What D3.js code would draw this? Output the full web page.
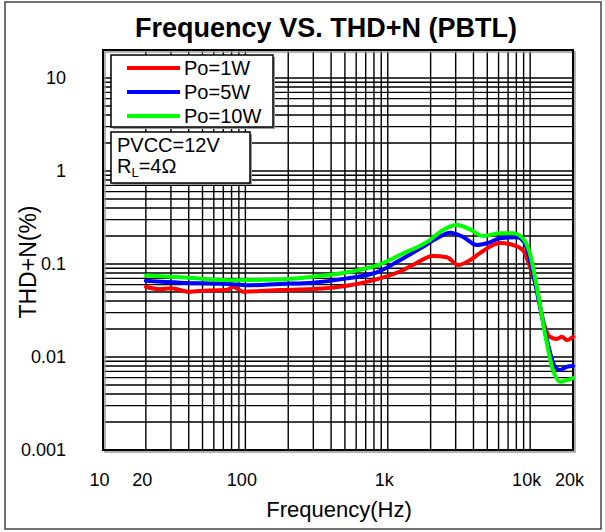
<!DOCTYPE html>
<html>
<head>
<meta charset="utf-8">
<script src="https://cdn.jsdelivr.net/npm/d3@7"></script>
<style>
  html, body { margin: 0; padding: 0; background: #fff; }
  svg { display: block; font-family: "Liberation Sans", Arial, sans-serif; }
</style>
</head>
<body>
<svg id="chart" width="605" height="532"></svg>
<script>
// ---- data ----
const titleText = "Frequency VS. THD+N (PBTL)";
const xTitle = "Frequency(Hz)";
const yTitle = "THD+N(%)";
const seriesNames = ["Po=1W", "Po=5W", "Po=10W"];
const seriesColors = ["#ff0000", "#0000ff", "#00ff00"];

const freqRed = [20, 25, 30, 40, 55, 74, 82, 96, 175, 300, 517, 881, 1218, 1504, 2076, 2606, 3113, 3779, 4438, 6142, 7575, 8898, 9955, 11170, 12300, 13770, 15420, 16720, 18120, 20000];
const thdRed  = [0.057, 0.0535, 0.0548, 0.0504, 0.052, 0.0525, 0.057, 0.0504, 0.0525, 0.0538, 0.0585, 0.070, 0.083, 0.0975, 0.122, 0.118, 0.0975, 0.110, 0.131, 0.168, 0.160, 0.141, 0.0935, 0.0525, 0.025, 0.0165, 0.0156, 0.0165, 0.0152, 0.0165];

const freqBlue = [20, 35, 78, 103, 175, 298, 517, 881, 1218, 1767, 2217, 2735, 3374, 4230, 4976, 6142, 8077, 9190, 10462, 11720, 13130, 14930, 16190, 18120, 20000];
const thdBlue  = [0.066, 0.063, 0.061, 0.059, 0.061, 0.063, 0.070, 0.084, 0.110, 0.153, 0.189, 0.217, 0.196, 0.160, 0.167, 0.189, 0.194, 0.167, 0.080, 0.0348, 0.0152, 0.00787, 0.00725, 0.00787, 0.0080];

const freqGreen = [20, 35, 78, 175, 298, 517, 881, 1218, 1978, 2442, 3062, 3779, 4662, 6142, 7575, 8898, 9955, 11350, 12700, 14450, 16190, 18120, 20000];
const thdGreen  = [0.075, 0.072, 0.067, 0.068, 0.073, 0.0815, 0.099, 0.125, 0.181, 0.232, 0.263, 0.236, 0.200, 0.214, 0.214, 0.189, 0.130, 0.0484, 0.018, 0.00725, 0.00542, 0.00566, 0.00594];

const xTickValues = [10, 20, 100, 1000, 10000, 20000];
const xTickLabels = ["10", "20", "100", "1k", "10k", "20k"];
const yTickValues = [0.001, 0.01, 0.1, 1, 10];
const yTickLabels = ["0.001", "0.01", "0.1", "1", "10"];
const xDomain = [10, 20000];
const yDomain = [0.001, 20];
const noteLine1 = "PVCC=12V";

// ---- layout ----
const svg = d3.select("#chart");
const plot = { left: 103, top: 50, right: 573, bottom: 450 };
const x = d3.scaleLog().domain(xDomain).range([plot.left, plot.right]);
const y = d3.scaleLog().domain(yDomain).range([plot.bottom, plot.top]);

// outer chart frame
svg.append("rect").attr("x", 5).attr("y", 2).attr("width", 596).attr("height", 527)
  .attr("fill", "#fff").attr("stroke", "#444").attr("stroke-width", 1.5);

// grid values (1..9 per decade)
const gridX = [];
for (let d = 10; d <= 10000; d *= 10) for (let m = 1; m <= 9; m++) { const v = d * m; if (v <= 20000) gridX.push(v); }
gridX.push(20000);
const gridY = [];
for (let d = 0.001; d <= 10.0001; d *= 10) for (let m = 1; m <= 9; m++) { const v = +(d * m).toPrecision(3); if (v <= 20) gridY.push(v); }

const grid = svg.append("g").attr("stroke", "#000").attr("stroke-width", 1.4);
grid.selectAll("line.gx").data(gridX).join("line").attr("class", "gx")
  .attr("x1", d => x(d)).attr("x2", d => x(d)).attr("y1", plot.top).attr("y2", plot.bottom);
grid.selectAll("line.gy").data(gridY).join("line").attr("class", "gy")
  .attr("y1", d => y(d)).attr("y2", d => y(d)).attr("x1", plot.left).attr("x2", plot.right);

// plot frame with slight shadow
svg.append("rect").attr("x", plot.left + 2).attr("y", plot.top + 2)
  .attr("width", plot.right - plot.left).attr("height", plot.bottom - plot.top)
  .attr("fill", "none").attr("stroke", "#999").attr("stroke-width", 1.5);
svg.append("rect").attr("x", plot.left).attr("y", plot.top)
  .attr("width", plot.right - plot.left).attr("height", plot.bottom - plot.top)
  .attr("fill", "none").attr("stroke", "#000").attr("stroke-width", 2);

// axes labels via d3 axes
const xAxis = svg.append("g").attr("transform", `translate(0,${plot.bottom})`)
  .call(d3.axisBottom(x).tickValues(xTickValues).tickSize(0).tickPadding(23)
    .tickFormat((d, i) => xTickLabels[i]));
xAxis.select(".domain").remove();
xAxis.selectAll("text").attr("font-size", 18).attr("fill", "#000")
  .attr("font-family", "Liberation Sans, Arial, sans-serif").attr("dx", -4);

const yAxis = svg.append("g").attr("transform", `translate(${plot.left},0)`)
  .call(d3.axisLeft(y).tickValues(yTickValues).tickSize(0).tickPadding(37)
    .tickFormat((d, i) => yTickLabels[i]));
yAxis.select(".domain").remove();
yAxis.selectAll("text").attr("font-size", 18).attr("fill", "#000")
  .attr("font-family", "Liberation Sans, Arial, sans-serif");

// series
const series = [
  { f: freqRed, v: thdRed },
  { f: freqBlue, v: thdBlue },
  { f: freqGreen, v: thdGreen }
];
const line = d3.line().curve(d3.curveMonotoneX).x(d => x(d[0])).y(d => y(d[1]));
series.forEach((s, i) => {
  const pts = s.f.map((f, k) => [f, s.v[k]]);
  svg.append("path").datum(pts).attr("d", line)
    .attr("fill", "none").attr("stroke", seriesColors[i]).attr("stroke-width", 4)
    .attr("stroke-linejoin", "round").attr("stroke-linecap", "round");
});

// legend
const lg = svg.append("g");
lg.append("rect").attr("x", 113).attr("y", 57).attr("width", 162).attr("height", 72).attr("fill", "#999");
lg.append("rect").attr("x", 111).attr("y", 55).attr("width", 162).attr("height", 72)
  .attr("fill", "#fff").attr("stroke", "#000").attr("stroke-width", 1.5);
seriesNames.forEach((n, i) => {
  const yy = 68 + i * 24;
  lg.append("line").attr("x1", 127).attr("x2", 180).attr("y1", yy).attr("y2", yy)
    .attr("stroke", seriesColors[i]).attr("stroke-width", 4);
  lg.append("text").attr("x", 184).attr("y", yy + 7).attr("font-size", 20).text(n);
});

// condition box
const cb = svg.append("g");
cb.append("rect").attr("x", 113).attr("y", 134).attr("width", 139).attr("height", 51).attr("fill", "#999");
cb.append("rect").attr("x", 111).attr("y", 132).attr("width", 139).attr("height", 51)
  .attr("fill", "#fff").attr("stroke", "#000").attr("stroke-width", 1.5);
cb.append("text").attr("x", 117).attr("y", 152).attr("font-size", 20).text(noteLine1);
const t2 = cb.append("text").attr("x", 117).attr("y", 173).attr("font-size", 20);
t2.append("tspan").text("R");
t2.append("tspan").attr("font-size", 13).attr("dy", 4).text("L");
t2.append("tspan").attr("dy", -4).text("=4Ω");

// titles
svg.append("text").attr("x", 326).attr("y", 37).attr("text-anchor", "middle")
  .attr("font-size", 27).attr("font-weight", "bold").text(titleText);
svg.append("text").attr("x", 339).attr("y", 517).attr("text-anchor", "middle")
  .attr("font-size", 22).text(xTitle);
svg.append("text").attr("transform", "translate(36,262) rotate(-90)").attr("text-anchor", "middle")
  .attr("font-size", 23).text(yTitle);
</script>
</body>
</html>
